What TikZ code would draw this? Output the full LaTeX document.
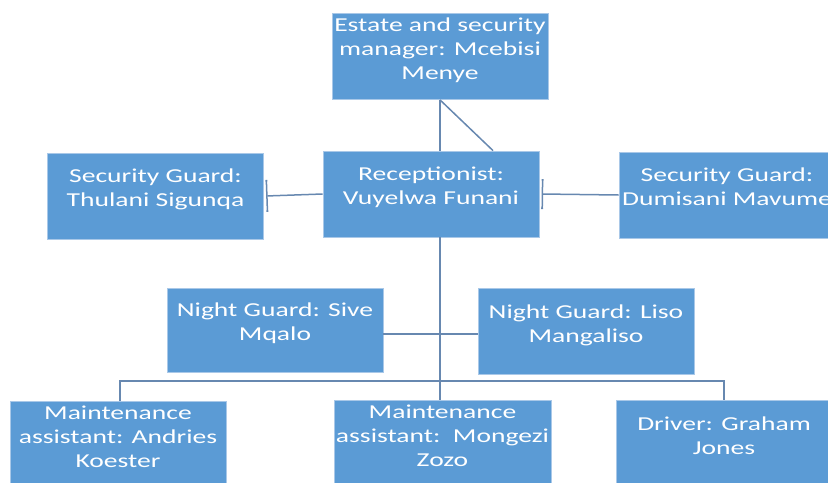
\documentclass[tikz,border=0pt]{standalone}
\usepackage{fontspec}
\setmainfont{Carlito}[FakeStretch=1.4]
\usetikzlibrary{arrows.meta}
\definecolor{boxblue}{HTML}{5B9BD5}
\definecolor{boxedge}{HTML}{A9C8E8}
\definecolor{linkblue}{HTML}{6788B0}

\begin{document}
\begin{tikzpicture}[x=0.5pt,y=-0.5pt,
  box/.style={draw=boxedge,line width=0.4pt,fill=boxblue,text=white,
    align=center,minimum width=108pt,minimum height=43pt,inner sep=1pt,
    text depth=8pt,font=\fontsize{9.85}{12}\selectfont},
  link/.style={draw=linkblue,line width=0.75pt}]
  \useasboundingbox (0,0) rectangle (828,482);
  \node[box] (mgr) at (440,56.5) {Estate and security\\manager: Mcebisi\\Menye};
  \node[box] (rec) at (431,194) {Receptionist:\\Vuyelwa Funani};
  \node[box] (sgL) at (155.5,196) {Security Guard:\\Thulani Sigunqa};
  \node[box] (sgR) at (727,195) {Security Guard:\\Dumisani Mavume};
  \node[box,minimum height=42pt] (ngL) at (275,330) {Night Guard: Sive\\Mqalo};
  \node[box] (ngR) at (586,331.5) {Night Guard: Liso\\Mangaliso};
  \node[box] (maL) at (118,444.5) {Maintenance\\assistant: Andries\\Koester};
  \node[box] (maM) at (442.5,443.5) {Maintenance\\assistant:\ \ Mongezi\\Zozo};
  \node[box] (drv) at (724,443.5) {Driver: Graham\\Jones};
  \coordinate (bus) at (440,381);

  \draw[link] (mgr.south) -- (mgr.south |- rec.north); % mgr -- rec
  \draw[link] (mgr.south) -- ([xshift=31pt]rec.north); % mgr -- rec
  \draw[link,{Bar[width=16pt,length=1pt]}-] ([xshift=1pt]sgL.east) -- (rec.west); % sgL -- rec
  \draw[link,{Bar[width=15pt,length=1pt]}-] ([xshift=1pt]rec.east) -- (sgR.west); % rec -- sgR
  \draw[link] (rec.south -| bus) -- (bus); % rec -- bus
  \draw[link] (ngL.east |- 0,334) -- (ngR.west |- 0,334); % ngL -- ngR
  \draw[link] ([xshift=1pt]maL.north) |- (bus) -| (drv.north); % maL -- drv
  \draw[link] (bus) -- (bus |- maM.north); % bus -- maM
\end{tikzpicture}
\end{document}
